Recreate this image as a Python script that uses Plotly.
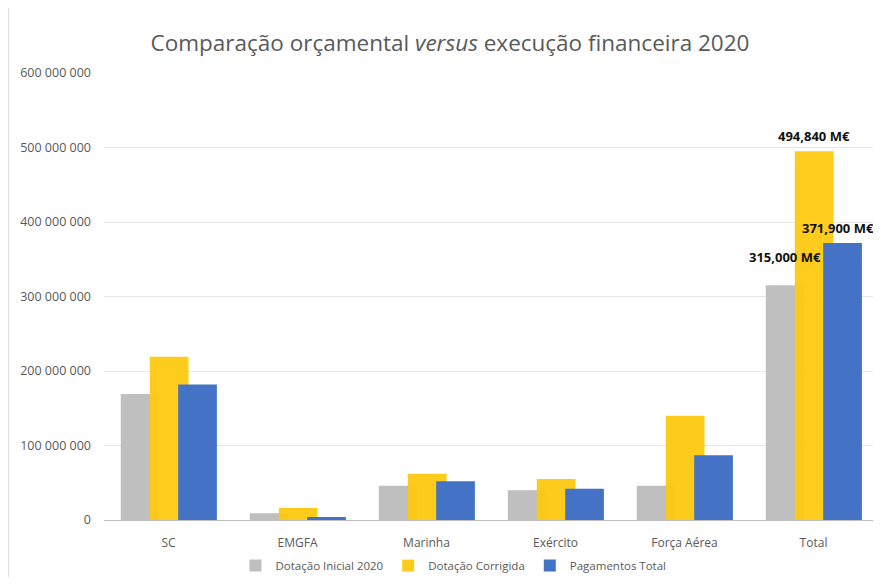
import plotly.graph_objects as go

categories = ["SC", "EMGFA", "Marinha", "Exército", "Força Aérea", "Total"]
dotacao_inicial = [169e6, 9e6, 46e6, 40e6, 46e6, 315.0e6]
dotacao_corrigida = [219e6, 16e6, 62e6, 55e6, 140e6, 494.84e6]
pagamentos_total = [182e6, 4e6, 52e6, 42e6, 87e6, 371.9e6]
series_names = ["Dotação Inicial 2020", "Dotação Corrigida", "Pagamentos Total"]
y_ticks = [0, 100e6, 200e6, 300e6, 400e6, 500e6, 600e6]

colors = ["#BFBFBF", "#FDC910", "#4472C4"]
offsets = [-0.37, -0.145, 0.075]
width = 0.30
series = [dotacao_inicial, dotacao_corrigida, pagamentos_total]

fig = go.Figure()
for name, vals, col, off in zip(series_names, series, colors, offsets):
    fig.add_trace(go.Bar(
        x=categories, y=vals, name=name, marker=dict(color=col, line=dict(width=0)),
        width=width, offset=off,
        opacity=0.95 if col == "#FDC910" else 1.0,
    ))

# labels on the Total group, built from the data
label_shifts = [(-29, 28), (0, 15), (24, 15)]
for vals, (xs, ys) in zip(series, label_shifts):
    v = vals[-1]
    txt = f"{v/1e6:.3f}".replace(".", ",") + " M€"
    fig.add_annotation(x=categories[-1], y=v, text=txt,
                       showarrow=False, xshift=xs, yshift=ys,
                       font=dict(family="Open Sans", size=13, color="#111111", weight="bold"))

fig.update_layout(
    width=865, height=569,
    barmode="overlay",
    separators=", ",
    paper_bgcolor="white", plot_bgcolor="white",
    margin=dict(l=96, r=0, t=65, b=57),
    title=dict(text="Comparação orçamental <i>versus</i> execução financeira 2020",
               x=0.511, xanchor="center", y=0.9385, yanchor="middle",
               font=dict(family="Open Sans", size=22.5, color="#595959")),
    font=dict(family="Open Sans", color="#595959", size=11),
    legend=dict(orientation="h", xref="container", yref="container",
                x=0.515, xanchor="center", y=0.02, yanchor="middle",
                font=dict(size=11.5, color="#595959"), traceorder="normal",
                itemwidth=30),
    showlegend=True,
)
fig.update_xaxes(range=[-0.5, 5.461], showgrid=False, showline=True, linecolor="#BFBFBF",
                 linewidth=1, tickfont=dict(size=12, color="#595959"), ticks="",
                 ticklabelstandoff=12)
fig.update_yaxes(range=[0, 600e6], tickvals=y_ticks, tickformat=",d",
                 showgrid=True, gridcolor="#E6E6E6", gridwidth=1,
                 zeroline=False, showline=False,
                 tickfont=dict(size=12.5, color="#595959"), ticklabelstandoff=12)
fig.add_shape(type="line", xref="paper", yref="paper", x0=-0.124, x1=-0.124, y0=-0.2, y1=1.2,
              line=dict(color="#D9D9D9", width=1))

fig.write_html("out.html")
